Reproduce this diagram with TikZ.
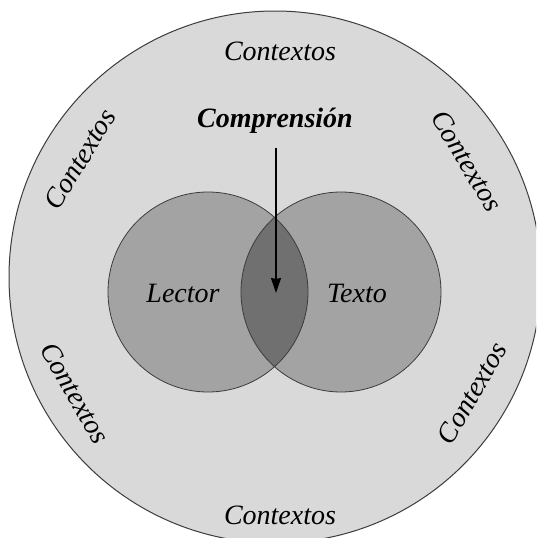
\documentclass[tikz,border=0pt]{standalone}
\usepackage{fontspec}
\setmainfont{Liberation Serif}
\usetikzlibrary{arrows.meta}
\definecolor{outerfill}{RGB}{217,217,217}
\definecolor{vennfill}{RGB}{163,163,163}
\definecolor{lensfill}{RGB}{112,112,112}
\definecolor{edge}{RGB}{60,60,60}
\begin{document}
\begin{tikzpicture}[x=1pt,y=-1pt,
  txt/.style={font=\fontsize{28}{30}\selectfont\itshape, inner sep=0pt},
  vennc/.style={circle, minimum size=200pt, inner sep=0pt, fill=vennfill},
  arr/.style={line width=1.6pt, -{Stealth[length=15pt,width=10pt,inset=1pt]}}]
\clip (0,0) rectangle (536,538);
\fill[white] (0,0) rectangle (536,538);
\node[circle, minimum size=532pt, inner sep=0pt, fill=outerfill, draw=edge, line width=1pt] (ctxc) at (275,277) {};
\node[vennc] (lector) at (208,292) {};
\node[vennc] (texto) at (341,292) {};
\begin{scope}
  \clip (lector.center) circle[radius=100pt];
  \fill[lensfill] (texto.center) circle[radius=100pt];
\end{scope}
\draw[edge, line width=0.8pt] (lector.center) circle[radius=100pt];
\draw[edge, line width=0.8pt] (texto.center) circle[radius=100pt];
\node[txt] (lt) at (183,293) {Lector};
\node[txt] (tt) at (357,293) {Texto};
\node[txt, font=\fontsize{28}{30}\selectfont\bfseries\itshape] (comp) at (275,121) {Comprensión};
\coordinate (tip) at (276,293);
\draw[arr, shorten <=14pt] (comp.south -| tip) -- (tip);
\node[txt] (c1) at (280,51) {Contextos};
\node[txt] (c2) at (280,515) {Contextos};
\node[txt, rotate=59] (c3) at (80,159) {Contextos};
\node[txt, rotate=-59] (c4) at (467,161) {Contextos};
\node[txt, rotate=-60] (c5) at (75,393) {Contextos};
\node[txt, rotate=60] (c6) at (472,393) {Contextos};
\end{tikzpicture}
\end{document}
